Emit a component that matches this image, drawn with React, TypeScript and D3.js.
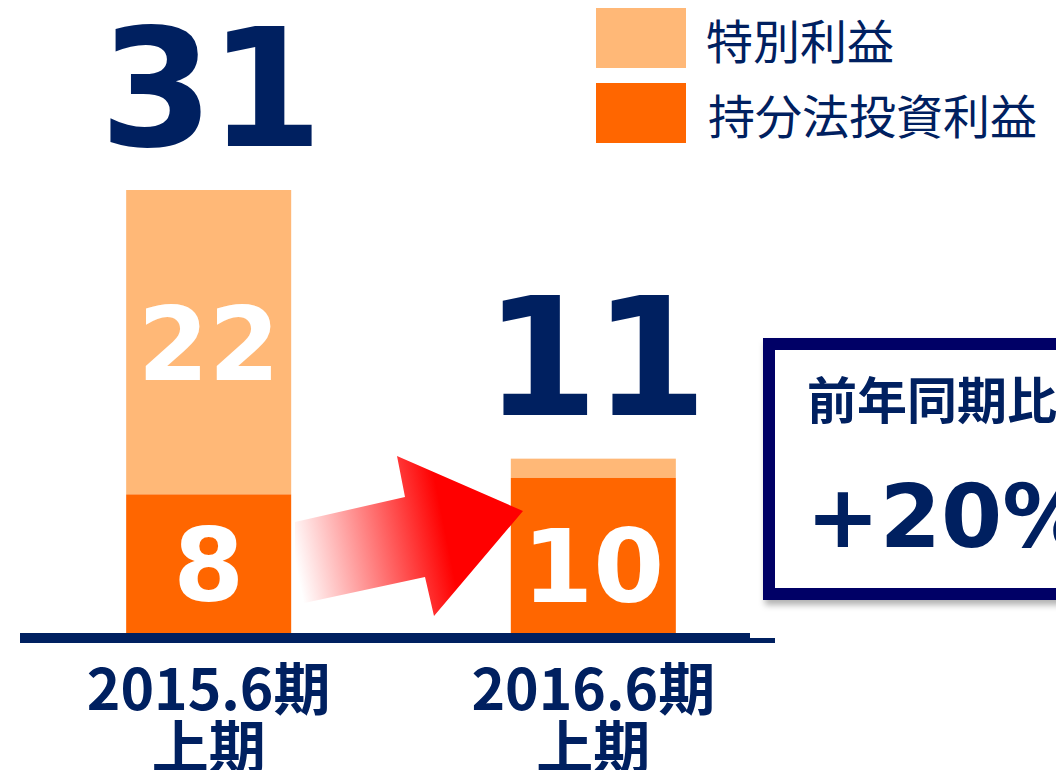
import React from "react";
import * as d3 from "d3";

const categories = ["2015.6期", "2016.6期"];
const subLabels = ["上期", "上期"];
// bar segment values (heights), labels as printed
const equityValues = [9.7, 10.85];
const specialValues = [21.3, 1.35];
const equityLabels = ["8", "10"];
const specialLabels = ["22", ""];
const totalLabels = ["31", "11"];
const legendItems = ["特別利益", "持分法投資利益"];
const calloutTitle = "前年同期比";
const calloutValue = "+20%";

const W = 1056;
const H = 770;
const NAVY = "#002060";
const LIGHT = "#FFB877";
const DARK = "#FF6600";
const NUM_FONT = "'DejaVu Sans', Verdana, sans-serif";
const CJK_FONT = "'Noto Sans CJK JP', 'Noto Sans', sans-serif";

export default function App() {
  const x = d3
    .scaleBand<string>()
    .domain(categories)
    .range([30, 772])
    .paddingInner(0.571)
    .paddingOuter(0.25);
  const y = d3.scaleLinear().domain([0, 31]).range([633, 190]);
  const bw = x.bandwidth();

  // arrow shape (decoration)
  const arrowPts: [number, number][] = [
    [295, 522],
    [405, 497],
    [397, 456],
    [523, 511],
    [434, 616],
    [425, 577],
    [295, 605],
  ];
  const arrowPath = d3.line()(arrowPts) + "Z";

  return (
    <svg
      width={W}
      height={H}
      viewBox={`0 0 ${W} ${H}`}
      style={{ position: "absolute", left: 0, top: 0, display: "block", background: "#fff" }}
    >
      <defs>
        <linearGradient id="arrowGrad" gradientUnits="userSpaceOnUse" x1={295} y1={560} x2={445} y2={530}>
          <stop offset="0" stopColor="#FFFFFF" />
          <stop offset="1" stopColor="#FF0000" />
        </linearGradient>
        <filter id="shadow" x="-10%" y="-10%" width="130%" height="130%">
          <feDropShadow dx="2" dy="5" stdDeviation="3" floodColor="#000" floodOpacity="0.3" />
        </filter>
      </defs>

      {/* bars */}
      {categories.map((c, i) => {
        const x0 = x(c)!;
        const e = equityValues[i];
        const s = specialValues[i];
        return (
          <g key={c}>
            <rect x={x0} y={y(e + s)} width={bw} height={y(e) - y(e + s)} fill={LIGHT} />
            <rect x={x0} y={y(e)} width={bw} height={y(0) - y(e)} fill={DARK} />
          </g>
        );
      })}

      {/* arrow */}
      <path d={arrowPath} fill="url(#arrowGrad)" />

      {/* inner labels */}
      {categories.map((c, i) => {
        const cx = x(c)! + bw / 2;
        const e = equityValues[i];
        const s = specialValues[i];
        return (
          <g key={c + "lbl"} fontFamily={NUM_FONT} fontWeight={700} fill="#fff" textAnchor="middle" fontSize={102}>
            {specialLabels[i] && (
              <text x={cx} y={(y(e) + y(e + s)) / 2 + 38}>{specialLabels[i]}</text>
            )}
            <text x={cx} y={(y(0) + y(e)) / 2 + 37 + (i === 1 ? 10 : 0)}>{equityLabels[i]}</text>
          </g>
        );
      })}

      {/* totals */}
      {categories.map((c, i) => {
        const cx = x(c)! + bw / 2;
        const t = equityValues[i] + specialValues[i];
        return (
          <text
            key={c + "tot"}
            x={cx}
            y={y(t) - 44}
            textAnchor="middle"
            fontFamily={NUM_FONT}
            fontWeight={700}
            fontSize={164}
            letterSpacing={-5}
            fill={NAVY}
          >
            {totalLabels[i]}
          </text>
        );
      })}

      {/* baseline */}
      <rect x={20} y={y(0)} width={730} height={10} fill={NAVY} />
      <rect x={750} y={y(0) + 5} width={25} height={5} fill={NAVY} />

      {/* category labels */}
      {categories.map((c, i) => {
        const cx = x(c)! + bw / 2;
        return (
          <g key={c + "cat"} fontFamily={CJK_FONT} fontWeight={700} fill={NAVY} textAnchor="middle" fontSize={57}>
            <text x={cx} y={710}>{c}</text>
            <text x={cx} y={768}>{subLabels[i]}</text>
          </g>
        );
      })}

      {/* legend */}
      {legendItems.map((l, i) => (
        <g key={l} transform={`translate(596, ${8 + i * 75})`}>
          <rect width={90} height={60} fill={i === 0 ? LIGHT : DARK} />
          <text
            x={110 + i * 2}
            y={30}
            dominantBaseline="central"
            fontFamily={CJK_FONT}
            fontWeight={400}
            fontSize={47}
            fill={NAVY}
          >
            {l}
          </text>
        </g>
      ))}

      {/* callout box */}
      <rect x={769} y={344} width={320} height={250} fill="#fff" stroke="#000066" strokeWidth={12} filter="url(#shadow)" />
      <text x={807} y={397} dominantBaseline="central" fontFamily={CJK_FONT} fontWeight={700} fontSize={50} fill={NAVY}>
        {calloutTitle}
      </text>
      <text x={806} y={547} fontFamily={NUM_FONT} fontWeight={700} fontSize={88} fill={NAVY}>
        {calloutValue}
      </text>
    </svg>
  );
}
